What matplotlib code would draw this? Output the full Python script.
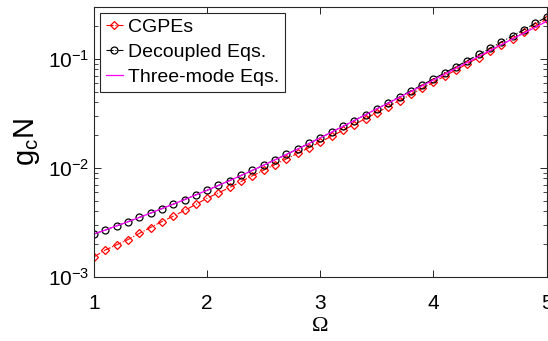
import matplotlib
matplotlib.use('Agg')
import matplotlib.pyplot as plt
from matplotlib.ticker import LogLocator, FixedLocator

plt.rcParams['font.family'] = ['Liberation Sans', 'DejaVu Sans']
plt.rcParams['mathtext.fontset'] = 'custom'
plt.rcParams['mathtext.rm'] = 'Liberation Sans'
plt.rcParams['mathtext.default'] = 'regular'

# data
omega = [1.0, 1.1, 1.2, 1.3, 1.4, 1.5, 1.6, 1.7, 1.8, 1.9,
         2.0, 2.1, 2.2, 2.3, 2.4, 2.5, 2.6, 2.7, 2.8, 2.9,
         3.0, 3.1, 3.2, 3.3, 3.4, 3.5, 3.6, 3.7, 3.8, 3.9,
         4.0, 4.1, 4.2, 4.3, 4.4, 4.5, 4.6, 4.7, 4.8, 4.9, 5.0]

cgpe = [1.524e-3, 1.766e-3, 1.968e-3, 2.198e-3, 2.506e-3, 2.838e-3, 3.214e-3, 3.606e-3, 4.064e-3, 4.624e-3,
        5.272e-3, 5.902e-3, 6.607e-3, 7.499e-3, 8.453e-3, 9.528e-3, 1.072e-2, 1.208e-2, 1.358e-2, 1.531e-2,
        1.730e-2, 1.950e-2, 2.208e-2, 2.495e-2, 2.831e-2, 3.214e-2, 3.648e-2, 4.140e-2, 4.710e-2, 5.358e-2,
        6.095e-2, 6.950e-2, 7.907e-2, 9.016e-2, 0.1028, 0.1175, 0.1343, 0.1535, 0.1754, 0.2014, 0.2312]

decoupled = [2.472e-3, 2.692e-3, 2.938e-3, 3.206e-3, 3.508e-3, 3.846e-3, 4.227e-3, 4.645e-3, 5.117e-3, 5.649e-3,
             6.237e-3, 6.902e-3, 7.656e-3, 8.511e-3, 9.484e-3, 1.059e-2, 1.186e-2, 1.327e-2, 1.489e-2, 1.675e-2,
             1.888e-2, 2.128e-2, 2.404e-2, 2.716e-2, 3.076e-2, 3.483e-2, 3.945e-2, 4.477e-2, 5.082e-2, 5.768e-2,
             6.546e-2, 7.447e-2, 8.472e-2, 9.638e-2, 0.1096, 0.1250, 0.1426, 0.1626, 0.1853, 0.2118, 0.2421]

threemode = [2.472e-3, 2.692e-3, 2.938e-3, 3.206e-3, 3.508e-3, 3.846e-3, 4.227e-3, 4.645e-3, 5.117e-3, 5.649e-3,
             6.237e-3, 6.902e-3, 7.656e-3, 8.511e-3, 9.484e-3, 1.059e-2, 1.186e-2, 1.327e-2, 1.489e-2, 1.675e-2,
             1.888e-2, 2.128e-2, 2.404e-2, 2.716e-2, 3.076e-2, 3.483e-2, 3.92e-2, 4.44e-2, 5.01e-2, 5.66e-2,
             6.40e-2, 7.24e-2, 8.20e-2, 9.29e-2, 0.1051, 0.1194, 0.1349, 0.1525, 0.1721, 0.1949, 0.2208]

fig = plt.figure(figsize=(5.48, 3.41), dpi=100)
ax = fig.add_axes([0.1715, 0.188, 0.826, 0.792])

ax.semilogy(omega, cgpe, '-.D', color='red', lw=0.8, ms=4.2, mfc='none', mew=0.9, label='CGPEs')
ax.semilogy(omega, decoupled, '-.o', color='black', lw=0.8, ms=5, mfc='none', mew=0.9, label='Decoupled Eqs.')
ax.semilogy(omega, threemode, '-', color='magenta', lw=0.9, label='Three-mode Eqs.')

ax.set_xlim(1, 5)
ax.set_ylim(1e-3, 0.3)
ax.xaxis.set_major_locator(FixedLocator([1, 2, 3, 4, 5]))
ax.yaxis.set_major_locator(LogLocator(base=10, numticks=10))
ax.yaxis.set_minor_locator(LogLocator(base=10, subs=range(2, 10), numticks=10))

edge = '#262626'
for s in ax.spines.values():
    s.set_color(edge)
    s.set_linewidth(0.8)
ax.tick_params(which='both', direction='in', top=True, right=True, colors=edge, labelcolor='black')
ax.tick_params(which='major', length=5, width=0.7, labelsize=15)
ax.tick_params(which='minor', length=3, width=0.6)
ax.tick_params(axis='x', pad=12)

ax.set_xlabel('Ω', fontsize=16, family=['Liberation Serif', 'DejaVu Serif'], labelpad=3)
ax.set_ylabel('g$_c$N', fontsize=21, labelpad=4)

leg = ax.legend(loc='upper left', fontsize=14, handlelength=0.9, handletextpad=0.25,
                borderpad=0.3, labelspacing=0.38, borderaxespad=0.3, fancybox=False,
                framealpha=1, edgecolor=edge)
leg.get_frame().set_linewidth(0.8)

plt.savefig('out.png', dpi=100)
